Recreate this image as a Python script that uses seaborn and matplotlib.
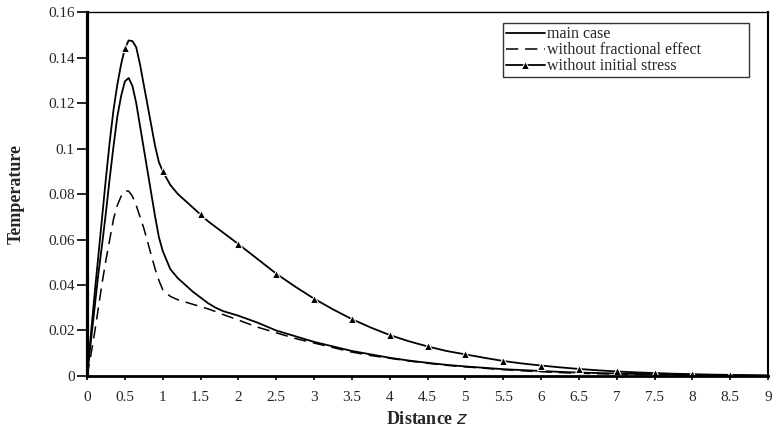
import numpy as np
import pandas as pd
import matplotlib
matplotlib.use('Agg')
import matplotlib.pyplot as plt
import seaborn as sns

# distance z grid (finer near the peak)
z = [0, 0.05, 0.1, 0.15, 0.2, 0.25, 0.3, 0.35, 0.4, 0.45, 0.5, 0.55, 0.6, 0.65, 0.7, 0.75,
     0.8, 0.85, 0.9, 0.95, 1.0, 1.1, 1.2, 1.3, 1.4, 1.5, 1.6, 1.7, 1.8, 1.9, 2.0,
     2.25, 2.5, 2.75, 3.0, 3.25, 3.5, 3.75, 4.0, 4.25, 4.5, 4.75, 5.0, 5.25, 5.5, 5.75,
     6.0, 6.25, 6.5, 6.75, 7.0, 7.25, 7.5, 7.75, 8.0, 8.25, 8.5, 8.75, 9.0]

main_case = [0, 0.015, 0.030, 0.045, 0.058, 0.072, 0.087, 0.101, 0.114, 0.123, 0.1295, 0.131,
             0.1275, 0.120, 0.110, 0.100, 0.090, 0.080, 0.070, 0.061, 0.055,
             0.047, 0.043, 0.040, 0.037, 0.0345, 0.032, 0.030, 0.0285, 0.0275, 0.0265,
             0.0235, 0.020, 0.0175, 0.015, 0.013, 0.011, 0.0095, 0.008, 0.0068, 0.0058, 0.0049,
             0.0042, 0.0036, 0.003, 0.0026, 0.0022, 0.0018, 0.0015, 0.0013, 0.0011, 0.0009,
             0.0008, 0.0006, 0.0005, 0.0004, 0.0004, 0.0003, 0.0002]

no_fractional = [0, 0.009, 0.019, 0.030, 0.041, 0.051, 0.060, 0.069, 0.075, 0.079, 0.0813, 0.0813,
                 0.079, 0.075, 0.070, 0.065, 0.059, 0.053, 0.047, 0.042, 0.038,
                 0.035, 0.0335, 0.0325, 0.0315, 0.0305, 0.0295, 0.0283, 0.027, 0.0258, 0.0246,
                 0.0215, 0.019, 0.0165, 0.0145, 0.0125, 0.0105, 0.009, 0.0078, 0.0066, 0.0056,
                 0.0047, 0.004, 0.0034, 0.0028, 0.0023, 0.0019, 0.0015, 0.0012, 0.001, 0.0008,
                 0.0006, 0.0005, 0.0004, 0.0003, 0.0002, 0.0002, 0.0001, 0.0001]

no_initial_stress = [0, 0.018, 0.036, 0.053, 0.070, 0.087, 0.103, 0.117, 0.128, 0.137, 0.144,
                     0.1475, 0.1472, 0.1445, 0.137, 0.128, 0.119, 0.110, 0.101, 0.094, 0.090,
                     0.084, 0.080, 0.077, 0.074, 0.071, 0.068, 0.0655, 0.063, 0.0605, 0.058,
                     0.0515, 0.045, 0.0393, 0.034, 0.0293, 0.025, 0.0213, 0.018, 0.0153, 0.013,
                     0.011, 0.0095, 0.008, 0.0066, 0.0055, 0.0046, 0.0038, 0.0031, 0.0025, 0.002,
                     0.0016, 0.0013, 0.001, 0.0008, 0.0006, 0.0005, 0.0003, 0.0002]

labels = ['main case', 'without fractional effect', 'without initial stress']
x_ticks = [0, 0.5, 1, 1.5, 2, 2.5, 3, 3.5, 4, 4.5, 5, 5.5, 6, 6.5, 7, 7.5, 8, 8.5, 9]
y_ticks = [0, 0.02, 0.04, 0.06, 0.08, 0.1, 0.12, 0.14, 0.16]

df = pd.DataFrame({'z': z, 'main': main_case, 'frac': no_fractional, 'stress': no_initial_stress})
# triangles only at the half-unit distances
mark_idx = [i for i, v in enumerate(z) if v in x_ticks]

sns.set_style('ticks')
plt.rcParams['font.family'] = ['Liberation Serif', 'DejaVu Serif']

fig = plt.figure(figsize=(7.75, 4.37), dpi=100)
ax = fig.add_axes([0.1123, 0.1396, 0.8787, 0.8329])

sns.lineplot(x='z', y='main', data=df, color='black', lw=1.3, label=labels[0], ax=ax)
sns.lineplot(x='z', y='frac', data=df, color='black', lw=1.1, label=labels[1], ax=ax,
             linestyle=(0, (8, 4.5)))
sns.lineplot(x='z', y='stress', data=df, color='black', lw=1.3, label=labels[2], ax=ax,
             marker='^', markersize=5.5, markevery=mark_idx)

ax.set_xlim(0, 9)
ax.set_ylim(0, 0.16)
ax.set_xticks(x_ticks)
ax.set_xticklabels(['{:g}'.format(t) for t in x_ticks])
ax.set_yticks(y_ticks)
ax.set_yticklabels(['{:g}'.format(t) for t in y_ticks])
ax.tick_params(labelsize=11, direction='out', width=1.2, color='black')
ax.tick_params(axis='y', length=7, pad=2)
ax.tick_params(axis='x', length=3, pad=8)

ax.spines['top'].set_linewidth(1.0)
ax.spines['right'].set_linewidth(1.5)
ax.spines['left'].set_linewidth(2.3)
ax.spines['bottom'].set_linewidth(2.0)
for s in ax.spines.values():
    s.set_color('black')
    s.set_visible(True)

ax.set_xlabel('Distance $\\mathit{z}$', fontsize=13, fontweight='bold', va='top')
ax.xaxis.set_label_coords(0.5, -0.095)
ax.set_ylabel('Temperature', fontsize=13, fontweight='bold')
ax.yaxis.set_label_coords(-0.092, 0.5)

leg = ax.legend(loc='upper left', bbox_to_anchor=(0.611, 0.0, 0.361, 0.970), mode='expand',
                borderaxespad=0, fontsize=11.5, frameon=True, fancybox=False, edgecolor='black',
                handlelength=2.4, handletextpad=0.15, labelspacing=0.0, borderpad=0.2)
leg.get_frame().set_linewidth(1.0)

fig.savefig('out.png', dpi=100)
